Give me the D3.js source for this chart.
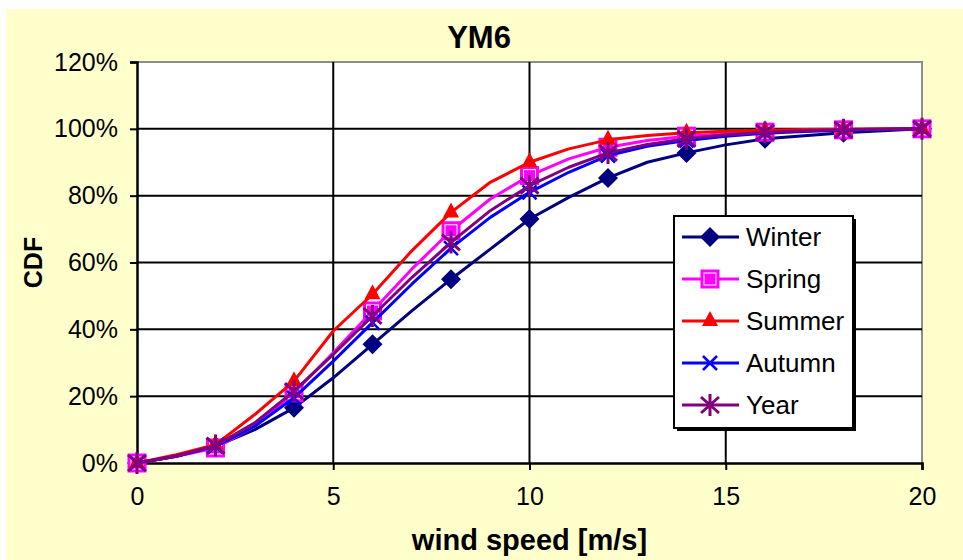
<!DOCTYPE html>
<html>
<head>
<meta charset="utf-8">
<script src="https://cdn.jsdelivr.net/npm/d3@7"></script>
<style>
  html, body { margin: 0; padding: 0; background: #ffffff; }
  svg { display: block; font-family: "Liberation Sans", Arial, sans-serif; }
</style>
</head>
<body>
<div id="chart"></div>
<script>
// wind speed (m/s), one point per 1 m/s
const speeds = d3.range(0, 21);
const markerSpeeds = [0, 2, 4, 6, 8, 10, 12, 14, 16, 18, 20];

// CDF in %
const winter = [0, 2, 5, 10, 16.5, 25.5, 35.5, 45.5, 55, 64, 73, 79.5, 85.3, 90, 92.8, 95.2, 97, 97.9, 98.8, 99.4, 100];
const spring = [0, 2, 4.5, 11, 21, 33, 45.5, 58, 69.5, 79, 86, 91, 94.5, 96.5, 97.8, 98.5, 99, 99.4, 99.7, 99.9, 100];
const summer = [0, 2.5, 5.5, 14.5, 24.5, 39.5, 50.5, 63.5, 75, 84, 90, 94, 96.7, 98, 98.8, 99.3, 99.6, 99.8, 99.9, 100, 100];
const autumn = [0, 2, 5, 11, 19.5, 30.5, 42, 53.5, 64.3, 73.5, 81, 87, 92, 94.8, 96.5, 97.8, 98.7, 99.2, 99.6, 99.8, 100];
const year   = [0, 2, 5.2, 12, 21.5, 32.5, 44, 55.5, 66, 75.5, 83, 88.5, 92.8, 95.3, 97, 98.2, 98.9, 99.4, 99.7, 99.9, 100];

const seriesNames = ["Winter", "Spring", "Summer", "Autumn", "Year"];
const xTicks = [0, 5, 10, 15, 20];
const yTicks = [0, 20, 40, 60, 80, 100, 120];

const series = [
  { name: "Winter", values: winter, color: "#000080", marker: "diamond" },
  { name: "Spring", values: spring, color: "#FF00FF", marker: "square" },
  { name: "Summer", values: summer, color: "#FF0000", marker: "triangle" },
  { name: "Autumn", values: autumn, color: "#0000FF", marker: "cross" },
  { name: "Year",   values: year,   color: "#800080", marker: "star" }
];

const W = 963, H = 560;
const svg = d3.select("#chart").append("svg")
  .attr("width", W).attr("height", H);

// chart background
svg.append("rect")
  .attr("x", 6).attr("y", 9)
  .attr("width", W - 6).attr("height", H - 9)
  .attr("fill", "#FFFFCC");

// plot area
const plot = { left: 137, right: 922, top: 62, bottom: 463 };

const x = d3.scaleLinear().domain([0, 20]).range([plot.left, plot.right]);
const y = d3.scaleLinear().domain([0, 120]).range([plot.bottom, plot.top]);

svg.append("rect")
  .attr("x", plot.left).attr("y", plot.top)
  .attr("width", plot.right - plot.left).attr("height", plot.bottom - plot.top)
  .attr("fill", "#ffffff");

// grey border top/right
svg.append("path")
  .attr("d", `M${plot.left},${plot.top}H${plot.right}V${plot.bottom}`)
  .attr("fill", "none").attr("stroke", "#8c8c8c").attr("stroke-width", 2);

// grid
svg.selectAll(".hgrid")
  .data(yTicks.filter(d => d > 0 && d < 120))
  .enter().append("line")
  .attr("x1", plot.left).attr("x2", plot.right)
  .attr("y1", d => y(d)).attr("y2", d => y(d))
  .attr("stroke", "#000").attr("stroke-width", 2);

svg.selectAll(".vgrid")
  .data(xTicks.filter(d => d > 0 && d < 20))
  .enter().append("line")
  .attr("x1", d => x(d)).attr("x2", d => x(d))
  .attr("y1", plot.top).attr("y2", plot.bottom)
  .attr("stroke", "#000").attr("stroke-width", 2);

// axes
const yAxis = svg.append("g")
  .attr("transform", `translate(${plot.left},0)`)
  .call(d3.axisLeft(y).tickValues(yTicks).tickSize(7).tickPadding(12).tickFormat(d => d + "%"));
yAxis.select(".domain").attr("stroke", "#000").attr("stroke-width", 2.5);
yAxis.selectAll(".tick line").attr("stroke", "#000").attr("stroke-width", 2);
yAxis.selectAll("text")
  .attr("font-size", "25px").attr("fill", "#000")
  .attr("font-family", "'Liberation Sans', Arial, sans-serif");

const xAxis = svg.append("g")
  .attr("transform", `translate(0,${plot.bottom})`)
  .call(d3.axisBottom(x).tickValues(xTicks).tickSize(7).tickPadding(17));
xAxis.select(".domain").attr("stroke", "#000").attr("stroke-width", 2.5);
xAxis.selectAll(".tick line").attr("stroke", "#000").attr("stroke-width", 2);
xAxis.selectAll("text")
  .attr("font-size", "25px").attr("fill", "#000")
  .attr("font-family", "'Liberation Sans', Arial, sans-serif");

// titles
svg.append("text")
  .attr("x", 479).attr("y", 48)
  .attr("text-anchor", "middle")
  .attr("font-size", "31px").attr("font-weight", "bold")
  .text("YM6");

svg.append("text")
  .attr("x", (plot.left + plot.right) / 2).attr("y", 550)
  .attr("text-anchor", "middle")
  .attr("font-size", "29px").attr("font-weight", "bold")
  .text("wind speed [m/s]");

svg.append("text")
  .attr("transform", `translate(42,${(plot.top + plot.bottom) / 2}) rotate(-90)`)
  .attr("text-anchor", "middle")
  .attr("font-size", "25px").attr("font-weight", "bold")
  .text("CDF");

// markers
function drawMarker(g, type, color, cx, cy) {
  if (type === "diamond") {
    g.append("path")
      .attr("d", `M${cx},${cy - 10}L${cx + 10},${cy}L${cx},${cy + 10}L${cx - 10},${cy}Z`)
      .attr("fill", color);
  } else if (type === "square") {
    g.append("rect")
      .attr("x", cx - 8.5).attr("y", cy - 8.5).attr("width", 17).attr("height", 17)
      .attr("fill", color).attr("stroke", color).attr("stroke-width", 2);
    g.append("rect")
      .attr("x", cx - 6).attr("y", cy - 6).attr("width", 12).attr("height", 12)
      .attr("fill", "none").attr("stroke", "#fff").attr("stroke-width", 1);
  } else if (type === "triangle") {
    g.append("path")
      .attr("d", `M${cx},${cy - 10}L${cx + 8},${cy + 5}L${cx - 8},${cy + 5}Z`)
      .attr("fill", color);
  } else if (type === "cross") {
    g.append("path")
      .attr("d", `M${cx - 7},${cy - 7}L${cx + 7},${cy + 7}M${cx + 7},${cy - 7}L${cx - 7},${cy + 7}`)
      .attr("stroke", color).attr("stroke-width", 2.5);
  } else if (type === "star") {
    g.append("path")
      .attr("d", `M${cx - 9},${cy - 8}L${cx + 9},${cy + 8}M${cx + 9},${cy - 8}L${cx - 9},${cy + 8}M${cx},${cy - 11}L${cx},${cy + 11}`)
      .attr("stroke", color).attr("stroke-width", 3);
  }
}

const line = d3.line()
  .x((d, i) => x(speeds[i]))
  .y(d => y(d));

series.forEach(s => {
  const g = svg.append("g");
  g.append("path")
    .attr("d", line(s.values))
    .attr("fill", "none")
    .attr("stroke", s.color)
    .attr("stroke-width", 3)
    .attr("stroke-linejoin", "round");
  markerSpeeds.forEach(v => {
    drawMarker(g, s.marker, s.color, x(v), y(s.values[speeds.indexOf(v)]));
  });
});

// legend
const lg = svg.append("g");
lg.append("rect")
  .attr("x", 677).attr("y", 219).attr("width", 179).attr("height", 212)
  .attr("fill", "#000");
lg.append("rect")
  .attr("x", 674).attr("y", 216).attr("width", 179).attr("height", 212)
  .attr("fill", "#fff").attr("stroke", "#000").attr("stroke-width", 2);

const legendY = d3.scalePoint().domain(seriesNames).range([237, 405]);
series.forEach(s => {
  const ly = legendY(s.name);
  lg.append("line")
    .attr("x1", 682).attr("x2", 739).attr("y1", ly).attr("y2", ly)
    .attr("stroke", s.color).attr("stroke-width", 3);
  drawMarker(lg, s.marker, s.color, 710, ly);
  lg.append("text")
    .attr("x", 746).attr("y", ly)
    .attr("dy", "0.35em")
    .attr("font-size", "26px")
    .text(s.name);
});
</script>
</body>
</html>
